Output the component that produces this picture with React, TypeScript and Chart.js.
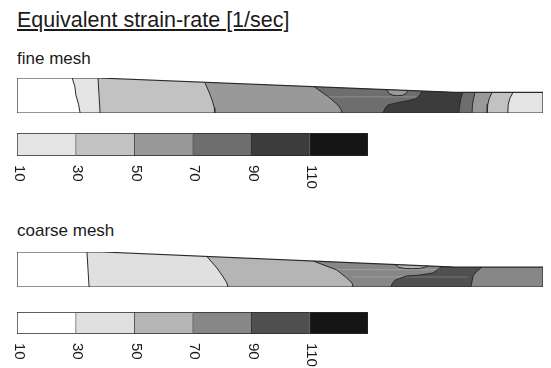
import React, { useEffect, useRef } from "react";
import { Chart, registerables } from "chart.js";

Chart.register(...registerables);

type Pt = [number, number];

// ---------------- text ----------------
const TITLE = "Equivalent strain-rate [1/sec]";
const FINE_LABEL = "fine mesh";
const COARSE_LABEL = "coarse mesh";

// ---------------- colour levels ----------------
const LEVEL_BOUNDS = [10, 30, 50, 70, 90, 110, 130];
const LEVEL_TICK_LABELS = ["10", "30", "50", "70", "90", "110"];
const FINE_LEVEL_COLORS = ["#e4e4e4", "#c2c2c2", "#999999", "#6e6e6e", "#3c3c3c", "#151515"];
const COARSE_LEVEL_COLORS = ["#ffffff", "#e0e0e0", "#b5b5b5", "#878787", "#505050", "#151515"];

// ---------------- fine mesh field (x: position 0-100, y: thickness) ----------------
const FINE_TOP: Pt[] = [[0, 10], [15.4, 10], [83.3, 5.9], [100, 5.9]];
const FINE_BASE_COLOR = "#ffffff";
const FINE_BOUNDARIES: Pt[][] = [
  [[10.5, 10], [11.0, 7.5], [11.2, 5.1], [11.7, 2.5], [12.0, 0]],
  [[15.4, 10], [15.6, 5], [15.8, 0]],
  [[35.7, 8.77], [36.5, 6.0], [37.1, 3.7], [37.5, 1.5], [37.6, 0]],
  [[56.5, 7.52], [59.5, 4.29], [61.0, 2.29], [61.6, 1.0], [61.8, 0]],
  [[77.0, 6.28], [76.8, 5.8], [76.6, 5.1], [75.7, 4.0], [74.0, 3.4], [72.8, 3.1], [70.5, 2.3], [70.0, 1.4], [69.6, 0]],
  [[84.8, 5.9], [84.4, 4.2], [84.2, 2.5], [84.0, 0]],
  [[87.1, 5.9], [86.8, 4.2], [86.6, 2.5], [86.5, 0]],
  [[90.3, 5.9], [89.8, 4.2], [89.5, 2.5], [89.4, 0]],
  [[94.3, 5.9], [93.7, 4.2], [93.4, 2.5], [93.3, 0]],
];
const FINE_ZONE_COLORS = ["#e4e4e4", "#c2c2c2", "#999999", "#6e6e6e", "#3c3c3c", "#6e6e6e", "#999999", "#c2c2c2", "#e4e4e4"];
const FINE_BUBBLE: Pt[] = [[70.3, 6.69], [70.7, 5.6], [71.5, 5.05], [72.3, 4.94], [73.3, 5.05], [74.0, 5.6], [74.3, 6.44]];
const FINE_BUBBLE_COLOR = "#999999";
const FINE_MESH_LINES: Pt[][] = [[[58.9, 4.6], [76.3, 4.6]]];

// ---------------- coarse mesh field ----------------
const COARSE_TOP: Pt[] = [[0, 10], [16.2, 10], [83.3, 5.7], [100, 5.7]];
const COARSE_BASE_COLOR = "#ffffff";
const COARSE_BOUNDARIES: Pt[][] = [
  [[13.3, 10], [13.5, 5], [13.7, 0]],
  [[36.1, 8.72], [38.0, 5.43], [39.2, 2.86], [39.9, 1.14], [40.1, 0]],
  [[56.3, 7.43], [60.8, 4.86], [62.7, 2.57], [63.7, 1.14], [63.9, 0]],
  [[80.8, 5.86], [80.4, 5.43], [79.1, 4.0], [76.5, 3.4], [74.1, 3.14], [71.9, 2.0], [71.3, 0.86], [71.1, 0]],
  [[88.4, 5.7], [87.3, 4.3], [86.7, 3.14], [86.3, 0]],
];
const COARSE_ZONE_COLORS = ["#e0e0e0", "#b5b5b5", "#878787", "#505050", "#878787"];
const COARSE_BUBBLE: Pt[] = [[71.9, 6.43], [72.6, 5.6], [73.8, 5.3], [75.0, 5.23], [76.5, 5.3], [77.5, 5.6], [78.1, 6.03]];
const COARSE_BUBBLE_COLOR = "#b5b5b5";
const COARSE_MESH_LINES: Pt[][] = [
  [[60.1, 4.94], [80.4, 4.94]],
  [[63.7, 2.86], [85.6, 2.86]],
];

// ---------------- styles ----------------
const FONT = '"Liberation Sans", Arial, Helvetica, sans-serif';
const TEXT_COLOR = "#1a1a1a";
const LINE_COLOR = "#2a2a2a";
const MESH_LINE_COLOR = "rgba(255,255,255,0.22)";

function zonePolygon(boundary: Pt[], top: Pt[]): Pt[] {
  const [bx, by] = boundary[0];
  const last = top[top.length - 1];
  const pts: Pt[] = [...boundary, [last[0], 0]];
  for (let i = top.length - 1; i >= 0; i--) {
    if (top[i][0] > bx) pts.push(top[i]);
  }
  pts.push([bx, by]);
  return pts;
}

const toXY = (a: Pt[]) => a.map(([x, y]) => ({ x, y }));

type StripProps = {
  top: Pt[];
  baseColor: string;
  boundaries: Pt[][];
  zoneColors: string[];
  bubble: Pt[];
  bubbleColor: string;
  meshLines: Pt[][];
  left: number;
  topPx: number;
  width: number;
  height: number;
};

const PAD = 3;

function StripChart(p: StripProps) {
  const ref = useRef<HTMLCanvasElement>(null);
  useEffect(() => {
    if (!ref.current) return;
    const outline: Pt[] = [[p.top[0][0], 0], ...p.top, [p.top[p.top.length - 1][0], 0]];
    const ds: any[] = [];
    ds.push({ data: toXY(outline), fill: "shape", backgroundColor: p.baseColor, borderWidth: 0 });
    p.boundaries.forEach((b, i) =>
      ds.push({ data: toXY(zonePolygon(b, p.top)), fill: "shape", backgroundColor: p.zoneColors[i], borderWidth: 0 })
    );
    ds.push({ data: toXY(p.bubble), fill: "shape", backgroundColor: p.bubbleColor, borderColor: LINE_COLOR, borderWidth: 1 });
    p.meshLines.forEach((l) => ds.push({ data: toXY(l), fill: false, borderColor: MESH_LINE_COLOR, borderWidth: 1 }));
    p.boundaries.forEach((b) => ds.push({ data: toXY(b), fill: false, borderColor: LINE_COLOR, borderWidth: 1 }));
    ds.push({ data: toXY([...outline, outline[0]]), fill: false, borderColor: LINE_COLOR, borderWidth: 1.2 });
    ds.forEach((d, i) => {
      d.order = ds.length - i;
      d.pointRadius = 0;
      d.tension = 0;
    });
    const chart = new Chart(ref.current, {
      type: "line",
      data: { datasets: ds },
      options: {
        animation: false,
        responsive: false,
        events: [],
        layout: { padding: PAD },
        plugins: { legend: { display: false }, tooltip: { enabled: false }, title: { display: false } },
        scales: {
          x: { type: "linear", min: 0, max: 100, display: false },
          y: { type: "linear", min: 0, max: 10, display: false },
        },
      },
    } as any);
    return () => chart.destroy();
  }, []);
  return (
    <canvas
      ref={ref}
      width={p.width + 2 * PAD}
      height={p.height + 2 * PAD}
      style={{ position: "absolute", left: p.left - PAD, top: p.topPx - PAD, width: p.width + 2 * PAD, height: p.height + 2 * PAD }}
    />
  );
}

const levelLabelsPlugin = {
  id: "levelLabels",
  afterDraw(chart: any) {
    const { ctx, chartArea, scales } = chart;
    ctx.save();
    ctx.font = `15px ${FONT}`;
    ctx.fillStyle = TEXT_COLOR;
    ctx.textAlign = "left";
    ctx.textBaseline = "middle";
    LEVEL_TICK_LABELS.forEach((lab, i) => {
      const x = scales.x.getPixelForValue(LEVEL_BOUNDS[i]);
      ctx.save();
      ctx.translate(x + 2, chartArea.bottom + 9);
      ctx.rotate(Math.PI / 2);
      ctx.fillText(lab, 0, 0);
      ctx.restore();
    });
    ctx.restore();
  },
};

const CB_PAD = 4;

function ColorBar({ colors, left, topPx, width, height, bottomSpace }: { colors: string[]; left: number; topPx: number; width: number; height: number; bottomSpace: number }) {
  const ref = useRef<HTMLCanvasElement>(null);
  useEffect(() => {
    if (!ref.current) return;
    const datasets = colors.map((c, i) => ({
      data: [[LEVEL_BOUNDS[i], LEVEL_BOUNDS[i + 1]]],
      backgroundColor: c,
      borderColor: LINE_COLOR,
      borderWidth: { left: 1, top: 1, bottom: 1, right: i === colors.length - 1 ? 1 : 0 },
      borderSkipped: false,
      grouped: false,
      barPercentage: 1,
      categoryPercentage: 1,
    }));
    const chart = new Chart(ref.current, {
      type: "bar",
      data: { labels: ["levels"], datasets },
      options: {
        indexAxis: "y",
        animation: false,
        responsive: false,
        events: [],
        layout: { padding: { left: CB_PAD, right: CB_PAD, top: CB_PAD, bottom: bottomSpace } },
        plugins: { legend: { display: false }, tooltip: { enabled: false }, title: { display: false } },
        scales: {
          x: { type: "linear", min: LEVEL_BOUNDS[0], max: LEVEL_BOUNDS[LEVEL_BOUNDS.length - 1], display: false },
          y: { display: false },
        },
      },
      plugins: [levelLabelsPlugin],
    } as any);
    return () => chart.destroy();
  }, []);
  const w = width + 2 * CB_PAD;
  const h = height + CB_PAD + bottomSpace;
  return (
    <canvas
      ref={ref}
      width={w}
      height={h}
      style={{ position: "absolute", left: left - CB_PAD, top: topPx - CB_PAD, width: w, height: h }}
    />
  );
}

const textStyle = (top: number, size: number, extra: any = {}) => ({
  position: "absolute" as const,
  left: 17,
  top,
  fontFamily: FONT,
  fontSize: size,
  lineHeight: `${size}px`,
  color: TEXT_COLOR,
  whiteSpace: "nowrap" as const,
  ...extra,
});

export default function App() {
  return (
    <div style={{ position: "absolute", left: 0, top: 0, width: 551, height: 368, background: "#ffffff", overflow: "hidden" }}>
      <div style={textStyle(10, 21.5, { textDecoration: "underline" })}>{TITLE}</div>
      <div style={textStyle(50, 17)}>{FINE_LABEL}</div>
      <StripChart
        top={FINE_TOP}
        baseColor={FINE_BASE_COLOR}
        boundaries={FINE_BOUNDARIES}
        zoneColors={FINE_ZONE_COLORS}
        bubble={FINE_BUBBLE}
        bubbleColor={FINE_BUBBLE_COLOR}
        meshLines={FINE_MESH_LINES}
        left={17}
        topPx={78}
        width={526}
        height={35}
      />
      <ColorBar colors={FINE_LEVEL_COLORS} left={17} topPx={133} width={351} height={23} bottomSpace={45} />
      <div style={textStyle(222, 17)}>{COARSE_LABEL}</div>
      <StripChart
        top={COARSE_TOP}
        baseColor={COARSE_BASE_COLOR}
        boundaries={COARSE_BOUNDARIES}
        zoneColors={COARSE_ZONE_COLORS}
        bubble={COARSE_BUBBLE}
        bubbleColor={COARSE_BUBBLE_COLOR}
        meshLines={COARSE_MESH_LINES}
        left={17}
        topPx={252}
        width={526}
        height={35}
      />
      <ColorBar colors={COARSE_LEVEL_COLORS} left={17} topPx={312} width={351} height={22} bottomSpace={34} />
    </div>
  );
}
